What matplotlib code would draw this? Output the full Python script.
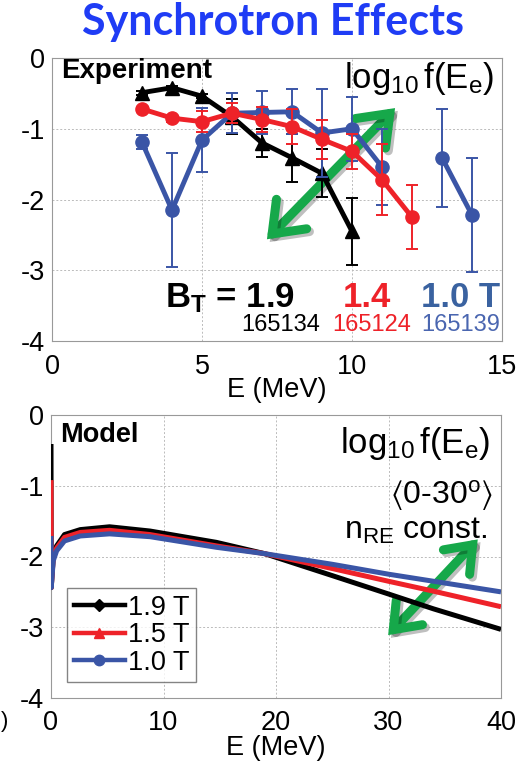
import numpy as np
import matplotlib
matplotlib.use("Agg")
import matplotlib.pyplot as plt
import matplotlib.patheffects as pe
from matplotlib.patches import FancyArrowPatch
from matplotlib.lines import Line2D

plt.rcParams['font.family'] = ['Liberation Sans', 'DejaVu Sans']
plt.rcParams['mathtext.fontset'] = 'custom'
plt.rcParams['mathtext.rm'] = 'Liberation Sans'
plt.rcParams['mathtext.it'] = 'Liberation Sans:italic'
plt.rcParams['mathtext.bf'] = 'Liberation Sans:bold'
plt.rcParams['mathtext.fallback'] = 'stixsans'
plt.rcParams['axes.unicode_minus'] = False

# ---------------- data: experiment ----------------
E_black = [3, 4, 5, 6, 7, 8, 9, 10]
y_black = [-0.49, -0.42, -0.54, -0.83, -1.20, -1.41, -1.63, -2.45]
err_black = [0.03, 0.03, 0.03, 0.25, 0.20, 0.34, 0.34, 0.47]

E_red = [3, 4, 5, 6, 7, 8, 9, 10, 11, 12]
y_red = [-0.72, -0.85, -0.90, -0.78, -0.87, -0.97, -1.15, -1.32, -1.72, -2.25]
err_red = [0.03, 0.05, 0.15, 0.14, 0.18, 0.25, 0.28, 0.25, 0.50, 0.45]

E_blue = [3, 4, 5, 6, 7, 8, 9, 10, 11, 12, 13, 14]
y_blue = [-1.19, -2.15, -1.16, -0.78, -0.77, -0.76, -1.06, -1.00, -1.54, np.nan, -1.41, -2.22]
err_blue = [0.10, 0.81, 0.45, 0.28, 0.30, 0.32, 0.62, 0.45, 0.54, np.nan, 0.69, 0.81]

# ---------------- data: model ----------------
E_model = [0, 0.02, 0.2, 0.5, 1.2, 2.6, 5.2, 8.8, 14.7, 19, 25, 30, 34, 40]
y_m19 = [-0.41, -2.44, -2.00, -1.85, -1.69, -1.62, -1.58, -1.64, -1.80, -1.96, -2.27, -2.53, -2.74, -3.03]
y_m15 = [-0.92, -2.44, -2.02, -1.88, -1.73, -1.66, -1.63, -1.69, -1.85, -1.96, -2.17, -2.35, -2.49, -2.71]
y_m10 = [-1.71, -2.44, -2.06, -1.92, -1.78, -1.71, -1.68, -1.72, -1.87, -1.96, -2.11, -2.25, -2.35, -2.50]
model_labels = ['1.9 T', '1.5 T', '1.0 T']

yticks = [0, -1, -2, -3, -4]
xticks_top = [0, 5, 10, 15]
xticks_bot = [0, 10, 20, 30, 40]

BLACK = '#000000'
RED = '#ee2229'
BLUE = '#3a55a6'
GREEN = '#16a84a'

fig = plt.figure(figsize=(5.2, 7.71), dpi=100)
W, H = 520, 771

def axpos(l, t, r, b):
    return [l / W, 1 - b / H, (r - l) / W, (b - t) / H]

ax1 = fig.add_axes(axpos(52, 58, 502, 341))
ax2 = fig.add_axes(axpos(51, 415, 501, 698))

TICK_FS = 19.5
for ax in (ax1, ax2):
    ax.set_ylim(-4, 0)
    ax.set_yticks(yticks)
    ax.grid(True, color='#bbbbbb', linestyle=(0, (2, 2)), linewidth=0.7)
    ax.tick_params(length=0, labelsize=TICK_FS)
    ax.tick_params(axis='x', pad=9)
    ax.tick_params(axis='y', pad=5)
    for s in ax.spines.values():
        s.set_color('#999999')
        s.set_linewidth(0.8)
    ax.set_axisbelow(True)

ax1.set_xlim(0, 15)
ax1.set_xticks(xticks_top)
ax2.set_xlim(0, 40)
ax2.set_xticks(xticks_bot)
ax1.set_xlabel('E (MeV)', fontsize=TICK_FS, labelpad=-2)
ax2.set_xlabel('E (MeV)', fontsize=TICK_FS, labelpad=-1)

# arrows
def green_arrow(ax, p_from, p_to, ms):
    arr = FancyArrowPatch(p_from, p_to, arrowstyle='<->,head_length=0.5,head_width=0.38',
                          mutation_scale=ms, color=GREEN, lw=6.5,
                          capstyle='round', joinstyle='miter', zorder=1.8)
    arr.set_path_effects([pe.SimpleLineShadow(offset=(2, -2), shadow_color='k', alpha=0.25),
                          pe.Normal()])
    ax.add_patch(arr)

green_arrow(ax1, (7.1, -2.59), (11.5, -0.68), 40)
green_arrow(ax2, (29.8, -3.14), (38.1, -1.73), 34)

# experimental series
kw = dict(lw=3.5, elinewidth=1.4, capsize=4.5, capthick=1.4, ms=9.5)
ax1.errorbar(E_black, y_black, yerr=err_black, color=BLACK, marker='^', zorder=3, **kw)
ax1.errorbar(E_blue, y_blue, yerr=err_blue, color=BLUE, marker='o', zorder=3.5, **kw)
ax1.errorbar(E_red, y_red, yerr=err_red, color=RED, marker='o', zorder=4, **kw)

ax1.text(0.02, 0.929, 'Experiment', transform=ax1.transAxes, fontsize=20,
         fontweight='bold', ha='left', va='baseline')
ax1.text(0.982, 0.894, r'$\mathrm{log_{10}\,f(E_e)}$', transform=ax1.transAxes,
         fontsize=25, ha='right', va='baseline')

ax1.text(8.1, -3.52, r'$\mathbf{B_T}$ = 1.9', fontsize=25, fontweight='bold',
         ha='right', va='baseline', color=BLACK)
ax1.text(9.7, -3.52, '1.4', fontsize=25, fontweight='bold', ha='left',
         va='baseline', color=RED)
ax1.text(14.93, -3.52, '1.0 T', fontsize=25, fontweight='bold', ha='right',
         va='baseline', color='#3a62a0')
ax1.text(8.93, -3.86, '165134', fontsize=17, ha='right', va='baseline', color=BLACK)
ax1.text(9.33, -3.86, '165124', fontsize=17, ha='left', va='baseline', color=RED)
ax1.text(14.93, -3.86, '165139', fontsize=17, ha='right', va='baseline', color='#4a66b0')

# model series
ax2.plot(E_model, y_m19, color=BLACK, lw=3.6, zorder=3, solid_capstyle='butt')
ax2.plot(E_model, y_m15, color=RED, lw=3.6, zorder=3.2, solid_capstyle='butt')
ax2.plot(E_model, y_m10, color=BLUE, lw=3.6, zorder=3.4, solid_capstyle='butt')

handles = [Line2D([], [], color=BLACK, lw=3.2, marker='D', ms=6),
           Line2D([], [], color=RED, lw=3.2, marker='^', ms=7),
           Line2D([], [], color=BLUE, lw=3.2, marker='o', ms=7.5)]
leg = ax2.legend(handles, model_labels, loc='lower left', bbox_to_anchor=(0.035, 0.055),
                 fontsize=TICK_FS, frameon=True, fancybox=False, handlelength=1.9,
                 handletextpad=0.1, borderpad=0.25, labelspacing=0.05,
                 borderaxespad=0.0)
leg.get_frame().set_edgecolor('#666666')
leg.get_frame().set_linewidth(1.0)

ax2.text(0.02, 0.905, 'Model', transform=ax2.transAxes, fontsize=19.5,
         fontweight='bold', ha='left', va='baseline')
ax2.text(0.976, 0.866, r'$\mathrm{log_{10}\,f(E_e)}$', transform=ax2.transAxes,
         fontsize=25, ha='right', va='baseline')
ax2.text(0.982, 0.686, r'$\langle\mathrm{0\text{-}30^o}\rangle$', transform=ax2.transAxes,
         fontsize=23, ha='right', va='baseline')
ax2.text(0.969, 0.562, r'$\mathrm{n_{RE}\ const.}$', transform=ax2.transAxes,
         fontsize=23, ha='right', va='baseline')

fig.text(273 / W, 1 - 22 / H, 'Synchrotron Effects', fontsize=31, fontweight='bold',
         color='#1f3cf5', ha='center', va='center', family=['Lato', 'DejaVu Sans'])
fig.text(1 / W, 1 - 722 / H, ')', fontsize=16, ha='left', va='center')

fig.savefig('out.png', dpi=100)
